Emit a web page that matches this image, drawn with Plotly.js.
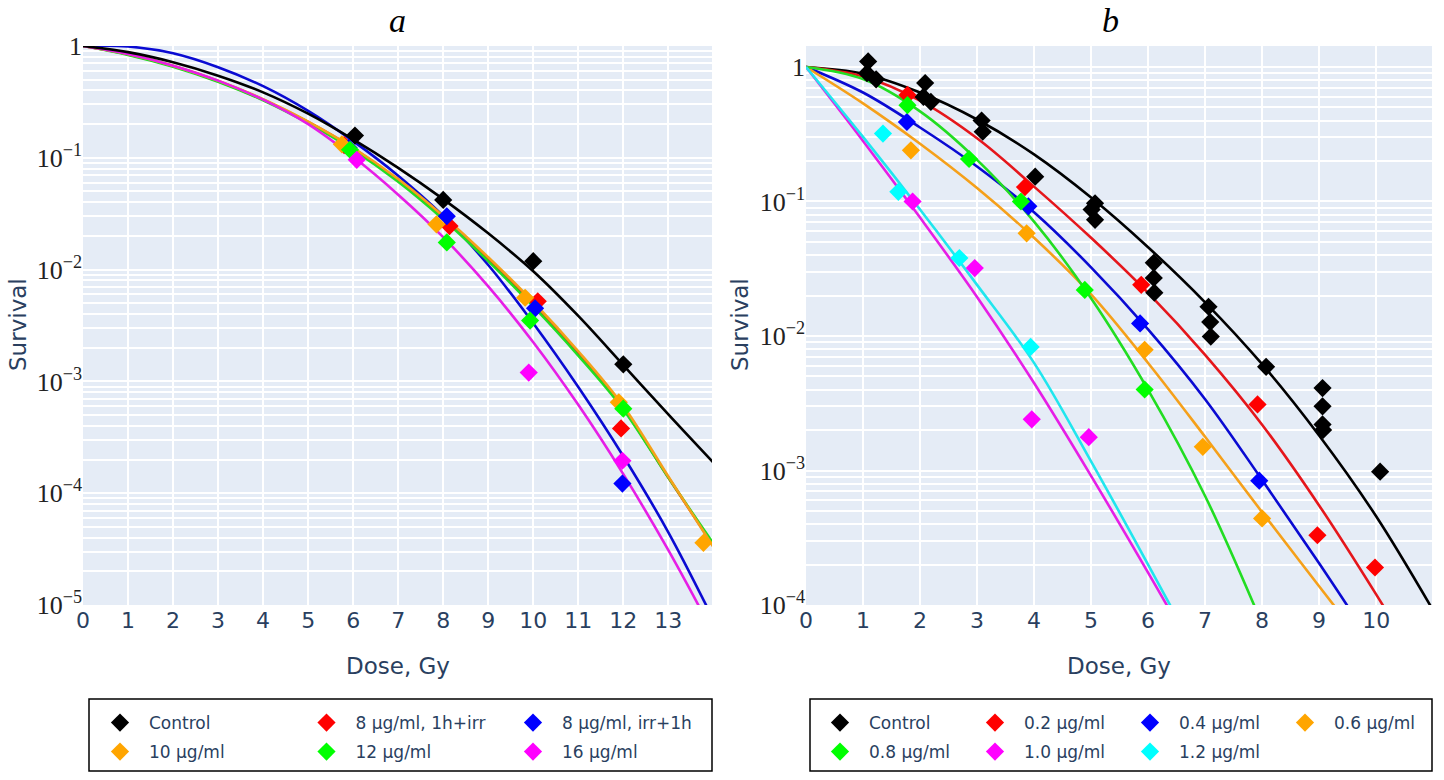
<!DOCTYPE html>
<html>
<head>
<meta charset="utf-8">
<script src="https://cdn.plot.ly/plotly-3.0.1.min.js"></script>
<style>
    html, body { margin: 0; padding: 0; background: #ffffff; }
    #grafico-supervivencia { width: 1444px; height: 780px; }
</style>
</head>
<body>
<div id="grafico-supervivencia"></div>
<script>
/******************************************************************************
 * Survival curves, panels a and b
 *
 * Fitted curves (lines) and measured points (diamonds), log survival axis.
 ******************************************************************************/

/* ============================================================================
 * Data - panel a
 * ========================================================================== */

const DOSE_FIT_A = [0, 1, 2, 3, 4, 5, 6, 7, 8, 9, 10, 11, 12, 13, 14];

const FIT_A_CONTROL = [1, 0.881, 0.716, 0.543, 0.385, 0.248, 0.146, 0.0813, 0.0427, 0.0211, 0.00966, 0.00385, 0.0014, 0.000507, 0.000188];
const FIT_A_RED     = [1, 0.841, 0.661, 0.484, 0.331, 0.209, 0.1216, 0.0631, 0.0292, 0.0123, 0.0049, 0.00178, 0.000575, 0.000138, 0.0000339];
const FIT_A_BLUE    = [1, 0.989, 0.861, 0.646, 0.437, 0.263, 0.141, 0.0692, 0.0302, 0.011, 0.00331, 0.00089, 0.000214, 0.0000447, 0.0000074];
const FIT_A_ORANGE  = [1, 0.847, 0.667, 0.49, 0.335, 0.211, 0.123, 0.0646, 0.0302, 0.0129, 0.00513, 0.00186, 0.000603, 0.000141, 0.0000331];
const FIT_A_GREEN   = [1, 0.832, 0.653, 0.479, 0.327, 0.204, 0.1175, 0.061, 0.0282, 0.0119, 0.00468, 0.0017, 0.000562, 0.000138, 0.0000355];
const FIT_A_MAGENTA = [1, 0.847, 0.667, 0.49, 0.331, 0.2, 0.102, 0.0468, 0.0195, 0.00708, 0.00224, 0.000617, 0.000148, 0.0000309, 0.0000056];

const PTS_A_CONTROL_X = [6.04, 8.0, 10.0, 12.0];
const PTS_A_CONTROL_Y = [0.158, 0.042, 0.0119, 0.00142];
const PTS_A_RED_X     = [5.8, 8.14, 10.1, 11.95];
const PTS_A_RED_Y     = [0.13, 0.0245, 0.0052, 0.00038];
const PTS_A_BLUE_X    = [5.9, 8.08, 10.04, 11.98];
const PTS_A_BLUE_Y    = [0.123, 0.030, 0.0045, 0.000122];
const PTS_A_ORANGE_X  = [5.75, 7.85, 9.82, 11.9, 13.78];
const PTS_A_ORANGE_Y  = [0.132, 0.0254, 0.0056, 0.00065, 0.000036];
const PTS_A_GREEN_X   = [5.93, 8.08, 9.93, 12.0];
const PTS_A_GREEN_Y   = [0.118, 0.0175, 0.0035, 0.00057];
const PTS_A_MAGENTA_X = [6.08, 9.9, 11.98];
const PTS_A_MAGENTA_Y = [0.096, 0.0012, 0.000195];


/* ============================================================================
 * Data - panel b
 * ========================================================================== */

const FIT_B_CONTROL_X = [0, 1, 2, 3, 4, 5, 6, 7, 8, 9, 10, 11];
const FIT_B_CONTROL_Y = [1, 0.891, 0.646, 0.407, 0.224, 0.107, 0.0457, 0.0178, 0.00617, 0.00182, 0.000457, 0.0000912];
const FIT_B_02_X = [0, 1, 2, 3, 4, 5, 6, 7, 8, 9, 10, 11];
const FIT_B_02_Y = [1, 0.851, 0.562, 0.295, 0.129, 0.0537, 0.0209, 0.00724, 0.00219, 0.00055, 0.00012, 0.000024];
const FIT_B_04_X = [0, 1, 2, 3, 4, 5, 6, 7, 8, 9, 10];
const FIT_B_04_Y = [1, 0.646, 0.355, 0.182, 0.0832, 0.0324, 0.0112, 0.00339, 0.000851, 0.000204, 0.0000468];
const FIT_B_06_X = [0, 1, 2, 3, 4, 5, 6, 7, 8, 9, 10];
const FIT_B_06_Y = [1, 0.537, 0.269, 0.126, 0.0537, 0.0204, 0.0063, 0.00178, 0.00049, 0.000138, 0.0000389];
const FIT_B_08_X = [0, 1, 2, 3, 4, 5, 6, 7, 8];
const FIT_B_08_Y = [1, 0.813, 0.468, 0.204, 0.0708, 0.0191, 0.00398, 0.000646, 0.0000724];
const FIT_B_10_X = [0, 1, 2, 3, 4, 5, 6, 7];
const FIT_B_10_Y = [1, 0.282, 0.0759, 0.0195, 0.00447, 0.000912, 0.000174, 0.0000316];
const FIT_B_12_X = [0, 1, 2, 3, 4, 5, 6, 7];
const FIT_B_12_Y = [1, 0.302, 0.0871, 0.024, 0.00631, 0.00117, 0.0002, 0.0000331];

const PTS_B_CONTROL_X = [1.09, 1.07, 1.23, 2.09, 2.06, 2.19, 3.08, 3.1, 4.02, 5.07, 5.01, 5.07, 6.1, 6.1, 6.11, 7.06, 7.09, 7.1, 8.07, 9.06, 9.06, 9.06, 9.07, 10.07];
const PTS_B_CONTROL_Y = [1.10, 0.90, 0.81, 0.76, 0.60, 0.55, 0.40, 0.33, 0.153, 0.097, 0.087, 0.073, 0.035, 0.027, 0.021, 0.0165, 0.0127, 0.0099, 0.0059, 0.0041, 0.0030, 0.0022, 0.0020, 0.00098];
const PTS_B_02_X = [1.78, 3.84, 5.88, 7.92, 8.97, 9.98];
const PTS_B_02_Y = [0.62, 0.128, 0.024, 0.0031, 0.00033, 0.00019];
const PTS_B_04_X = [1.77, 3.9, 5.86, 7.95];
const PTS_B_04_Y = [0.39, 0.092, 0.0124, 0.00084];
const PTS_B_06_X = [1.84, 3.87, 5.94, 6.96, 8.0];
const PTS_B_06_Y = [0.24, 0.058, 0.0079, 0.0015, 0.00044];
const PTS_B_08_X = [1.78, 2.86, 3.77, 4.89, 5.94];
const PTS_B_08_Y = [0.52, 0.207, 0.10, 0.022, 0.0040];
const PTS_B_10_X = [1.87, 2.96, 3.96, 4.96];
const PTS_B_10_Y = [0.10, 0.032, 0.0024, 0.00177];
const PTS_B_12_X = [1.35, 1.62, 2.69, 3.94];
const PTS_B_12_Y = [0.32, 0.118, 0.038, 0.0083];


/* ============================================================================
 * Labels
 * ========================================================================== */

const NAMES_A = ["Control", "8 μg/ml, 1h+irr", "8 μg/ml, irr+1h", "10 μg/ml", "12 μg/ml", "16 μg/ml"];
const NAMES_B = ["Control", "0.2 μg/ml", "0.4 μg/ml", "0.6 μg/ml", "0.8 μg/ml", "1.0 μg/ml", "1.2 μg/ml"];

const DECADES_A = [1e-5, 1e-4, 1e-3, 1e-2, 1e-1, 1];
const DECADE_LABELS_A = ["10<sup>−5</sup>", "10<sup>−4</sup>", "10<sup>−3</sup>", "10<sup>−2</sup>", "10<sup>−1</sup>", "1"];
const DECADES_B = [1e-4, 1e-3, 1e-2, 1e-1, 1];
const DECADE_LABELS_B = ["10<sup>−4</sup>", "10<sup>−3</sup>", "10<sup>−2</sup>", "10<sup>−1</sup>", "1"];


/* ============================================================================
 * Styles
 * ========================================================================== */

const COLOR_POINTS = ["#000000", "#ff0000", "#0000ff", "#ffa500", "#00ff00", "#ff00ff", "#00ffff"];
const COLOR_LINES  = ["#000000", "#e5161b", "#0a0ad2", "#f5a01a", "#22dd22", "#e61ee6", "#20e6ee"];

const SANS = "DejaVu Sans, Verdana, sans-serif";
const SERIF = "Liberation Serif, DejaVu Serif, serif";
const TEXT_COLOR = "#2a3f5f";


/* ============================================================================
 * Helpers
 * ========================================================================== */

/**
 * Fitted curve, smooth line only.
 */
function lineTrace(x, y, color, xa, ya) {
    return {
        type: "scatter",
        mode: "lines",
        x: x,
        y: y,
        xaxis: xa,
        yaxis: ya,
        line: { color: color, width: 2.6, shape: "spline", smoothing: 1 },
        showlegend: false,
        hoverinfo: "skip"
    };
}

/**
 * Measured points, diamonds, shown in the legend.
 */
function pointTrace(name, x, y, color, xa, ya, legend) {
    return {
        type: "scatter",
        mode: "markers",
        name: name,
        x: x,
        y: y,
        xaxis: xa,
        yaxis: ya,
        legend: legend,
        marker: { symbol: "diamond", size: 14, color: color }
    };
}

/**
 * Minor grid positions 2..9 inside each decade.
 */
function minorGrid(decades) {
    const vals = [];
    decades.forEach((d) => {
        for (let m = 2; m <= 9; m++) {
            vals.push(m * d);
        }
    });
    return vals;
}

function legendRow(xPx, yPx, entry) {
    return {
        orientation: "h",
        x: xPx / 1444,
        y: 1 - yPx / 780,
        xanchor: "left",
        yanchor: "middle",
        entrywidth: entry,
        entrywidthmode: "pixels",
        itemwidth: 48,
        bgcolor: "rgba(0,0,0,0)",
        borderwidth: 0,
        font: { family: SANS, size: 17, color: TEXT_COLOR }
    };
}

function paperText(text, xPx, yPx, font, angle, yanchor) {
    return {
        text: text,
        x: xPx / 1444,
        y: 1 - yPx / 780,
        xref: "paper",
        yref: "paper",
        xanchor: "center",
        yanchor: yanchor || "middle",
        showarrow: false,
        textangle: angle || 0,
        font: font
    };
}


/* ============================================================================
 * Chart
 * ========================================================================== */

function crearGrafico() {

    const traces = [
        // panel a, curves
        lineTrace(DOSE_FIT_A, FIT_A_RED, COLOR_LINES[1], "x", "y"),
        lineTrace(DOSE_FIT_A, FIT_A_BLUE, COLOR_LINES[2], "x", "y"),
        lineTrace(DOSE_FIT_A, FIT_A_GREEN, COLOR_LINES[4], "x", "y"),
        lineTrace(DOSE_FIT_A, FIT_A_ORANGE, COLOR_LINES[3], "x", "y"),
        lineTrace(DOSE_FIT_A, FIT_A_MAGENTA, COLOR_LINES[5], "x", "y"),
        lineTrace(DOSE_FIT_A, FIT_A_CONTROL, COLOR_LINES[0], "x", "y"),

        // panel b, curves
        lineTrace(FIT_B_CONTROL_X, FIT_B_CONTROL_Y, COLOR_LINES[0], "x2", "y2"),
        lineTrace(FIT_B_02_X, FIT_B_02_Y, COLOR_LINES[1], "x2", "y2"),
        lineTrace(FIT_B_04_X, FIT_B_04_Y, COLOR_LINES[2], "x2", "y2"),
        lineTrace(FIT_B_06_X, FIT_B_06_Y, COLOR_LINES[3], "x2", "y2"),
        lineTrace(FIT_B_08_X, FIT_B_08_Y, COLOR_LINES[4], "x2", "y2"),
        lineTrace(FIT_B_10_X, FIT_B_10_Y, COLOR_LINES[5], "x2", "y2"),
        lineTrace(FIT_B_12_X, FIT_B_12_Y, COLOR_LINES[6], "x2", "y2"),

        // panel a, points
        pointTrace(NAMES_A[0], PTS_A_CONTROL_X, PTS_A_CONTROL_Y, COLOR_POINTS[0], "x", "y", "legend"),
        pointTrace(NAMES_A[1], PTS_A_RED_X, PTS_A_RED_Y, COLOR_POINTS[1], "x", "y", "legend"),
        pointTrace(NAMES_A[2], PTS_A_BLUE_X, PTS_A_BLUE_Y, COLOR_POINTS[2], "x", "y", "legend"),
        pointTrace(NAMES_A[3], PTS_A_ORANGE_X, PTS_A_ORANGE_Y, COLOR_POINTS[3], "x", "y", "legend2"),
        pointTrace(NAMES_A[4], PTS_A_GREEN_X, PTS_A_GREEN_Y, COLOR_POINTS[4], "x", "y", "legend2"),
        pointTrace(NAMES_A[5], PTS_A_MAGENTA_X, PTS_A_MAGENTA_Y, COLOR_POINTS[5], "x", "y", "legend2"),

        // panel b, points
        pointTrace(NAMES_B[0], PTS_B_CONTROL_X, PTS_B_CONTROL_Y, COLOR_POINTS[0], "x2", "y2", "legend3"),
        pointTrace(NAMES_B[1], PTS_B_02_X, PTS_B_02_Y, COLOR_POINTS[1], "x2", "y2", "legend3"),
        pointTrace(NAMES_B[2], PTS_B_04_X, PTS_B_04_Y, COLOR_POINTS[2], "x2", "y2", "legend3"),
        pointTrace(NAMES_B[3], PTS_B_06_X, PTS_B_06_Y, COLOR_POINTS[3], "x2", "y2", "legend3"),
        pointTrace(NAMES_B[4], PTS_B_08_X, PTS_B_08_Y, COLOR_POINTS[4], "x2", "y2", "legend4"),
        pointTrace(NAMES_B[5], PTS_B_10_X, PTS_B_10_Y, COLOR_POINTS[5], "x2", "y2", "legend4"),
        pointTrace(NAMES_B[6], PTS_B_12_X, PTS_B_12_Y, COLOR_POINTS[6], "x2", "y2", "legend4")
    ];

    const xCommon = {
        dtick: 1,
        tick0: 0,
        showgrid: true,
        gridcolor: "#ffffff",
        gridwidth: 2,
        zeroline: false,
        ticks: "",
        tickfont: { family: SANS, size: 22, color: TEXT_COLOR }
    };

    const yCommon = {
        type: "log",
        tickmode: "array",
        showgrid: true,
        gridcolor: "#ffffff",
        gridwidth: 2,
        zeroline: false,
        ticks: "",
        tickfont: { family: SERIF, size: 26, color: "#222222" }
    };

    const yDomain = [1 - 605 / 780, 1 - 46 / 780];

    const titleFont = { family: SERIF, size: 34, style: "italic", color: "#000000" };
    const axisFont = { family: SANS, size: 23, color: TEXT_COLOR };
    const boxLine = { color: "#000000", width: 1.5 };

    const layout = {
        width: 1444,
        height: 780,
        margin: { l: 0, r: 0, t: 0, b: 0 },
        paper_bgcolor: "#ffffff",
        plot_bgcolor: "#e5ecf6",
        showlegend: true,

        xaxis: Object.assign({}, xCommon, { domain: [83 / 1444, 712 / 1444], range: [0, 13.97], anchor: "y" }),
        yaxis: Object.assign({}, yCommon, { domain: yDomain, range: [-5, 0], anchor: "x",
            tickvals: DECADES_A, ticktext: DECADE_LABELS_A,
            minor: { tickmode: "array", tickvals: minorGrid(DECADES_A), showgrid: true,
                     gridcolor: "#ffffff", gridwidth: 2, ticks: "" } }),
        xaxis2: Object.assign({}, xCommon, { domain: [806 / 1444, 1432 / 1444], range: [0, 10.98], anchor: "y2" }),
        yaxis2: Object.assign({}, yCommon, { domain: yDomain, range: [-4, 0.156], anchor: "x2",
            tickvals: DECADES_B, ticktext: DECADE_LABELS_B,
            minor: { tickmode: "array", tickvals: minorGrid(DECADES_B), showgrid: true,
                     gridcolor: "#ffffff", gridwidth: 2, ticks: "" } }),

        legend: legendRow(91, 723, 143.5),
        legend2: legendRow(91, 752, 143.5),
        legend3: legendRow(811, 723, 92),
        legend4: legendRow(811, 752, 92),

        shapes: [
            { type: "rect", xref: "paper", yref: "paper",
              x0: 89 / 1444, x1: 712 / 1444, y0: 1 - 771 / 780, y1: 1 - 699 / 780, line: boxLine },
            { type: "rect", xref: "paper", yref: "paper",
              x0: 810 / 1444, x1: 1432 / 1444, y0: 1 - 771 / 780, y1: 1 - 699 / 780, line: boxLine }
        ],

        annotations: [
            paperText("a", 398, 0, titleFont, 0, "top"),
            paperText("b", 1110, 0, titleFont, 0, "top"),
            paperText("Survival", 18, 325, axisFont, -90),
            paperText("Survival", 740, 325, axisFont, -90),
            paperText("Dose, Gy", 397.5, 666, axisFont),
            paperText("Dose, Gy", 1119, 666, axisFont)
        ]
    };

    Plotly.newPlot("grafico-supervivencia", traces, layout, { displayModeBar: false, staticPlot: true });
}


/* ============================================================================
 * Init
 * ========================================================================== */

document.addEventListener("DOMContentLoaded", () => {

    crearGrafico();

});
</script>
</body>
</html>
